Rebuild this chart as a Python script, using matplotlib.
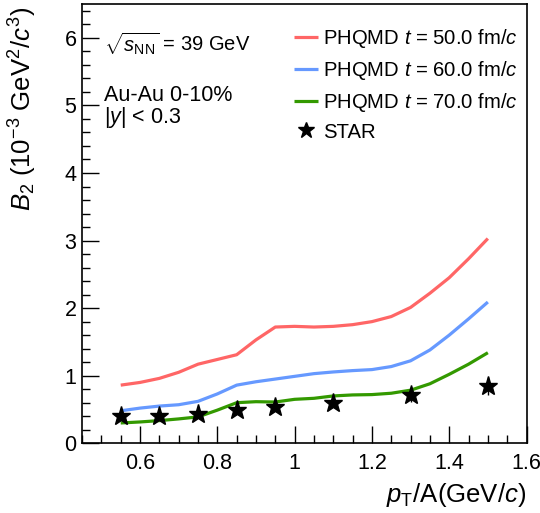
import matplotlib
matplotlib.use("Agg")
import matplotlib.pyplot as plt
from matplotlib.lines import Line2D
from matplotlib.ticker import MultipleLocator

plt.rcParams["font.family"] = ["Liberation Sans", "DejaVu Sans"]
plt.rcParams["mathtext.fontset"] = "custom"
plt.rcParams["mathtext.rm"] = "Liberation Sans"
plt.rcParams["mathtext.it"] = "Liberation Sans:italic"

# PHQMD curves
pt = [0.55, 0.60, 0.65, 0.70, 0.75, 0.80, 0.85, 0.90, 0.95, 1.00,
      1.05, 1.10, 1.15, 1.20, 1.25, 1.30, 1.35, 1.40, 1.45, 1.50]
b2_t50 = [0.86, 0.90, 0.96, 1.05, 1.17, 1.24, 1.31, 1.53, 1.72, 1.73,
          1.72, 1.73, 1.755, 1.80, 1.875, 2.01, 2.22, 2.45, 2.73, 3.03]
b2_t60 = [0.48, 0.52, 0.55, 0.57, 0.62, 0.73, 0.86, 0.91, 0.95, 0.99,
          1.03, 1.055, 1.075, 1.09, 1.135, 1.22, 1.38, 1.60, 1.84, 2.09]
b2_t70 = [0.30, 0.315, 0.335, 0.36, 0.39, 0.49, 0.60, 0.615, 0.61, 0.65,
          0.665, 0.70, 0.715, 0.72, 0.74, 0.785, 0.88, 1.02, 1.17, 1.34]

# STAR data
star_pt = [0.55, 0.65, 0.75, 0.85, 0.95, 1.10, 1.30, 1.50]
star_b2 = [0.40, 0.40, 0.44, 0.49, 0.53, 0.59, 0.715, 0.85]
star_err = [0.03, 0.03, 0.03, 0.04, 0.04, 0.05, 0.11, 0.13]

labels = ["PHQMD $t$ = 50.0 fm/$c$", "PHQMD $t$ = 60.0 fm/$c$", "PHQMD $t$ = 70.0 fm/$c$"]
colors = ["#ff6666", "#6699ff", "#339900"]

fig = plt.figure(figsize=(5.4, 5.13), dpi=100)
ax = fig.add_axes([0.152, 0.136, 0.823, 0.856])

for y, c, lab in zip([b2_t50, b2_t60, b2_t70], colors, labels):
    ax.plot(pt, y, color=c, lw=2.3, label=lab, solid_capstyle="butt", solid_joinstyle="round")

ax.errorbar(star_pt, star_b2, yerr=star_err, fmt="*", color="black", ms=14,
            elinewidth=1, capsize=0, label="STAR", zorder=5)

ax.set_xlim(0.45, 1.6)
ax.set_ylim(0, 6.5)
ax.xaxis.set_major_locator(MultipleLocator(0.2))
ax.xaxis.set_minor_locator(MultipleLocator(0.05))
ax.yaxis.set_major_locator(MultipleLocator(1))
ax.yaxis.set_minor_locator(MultipleLocator(0.2))
ax.xaxis.set_major_formatter(plt.FuncFormatter(lambda v, p: f"{v:g}"))
ax.tick_params(which="both", direction="in", top=False, right=False, labelsize=15.5, width=1)
ax.tick_params(which="major", length=12)
ax.tick_params(which="minor", length=6)
ax.tick_params(axis="x", pad=7)
ax.tick_params(axis="y", pad=4)
for s in ax.spines.values():
    s.set_linewidth(1.2)

ax.set_xlabel("$p_{\\rm T}$/A(GeV/$c$)", fontsize=18.5, loc="right")
ax.xaxis.set_label_coords(1.0, -0.085)
ax.set_ylabel("$B_{2}$ (10$^{-3}$ GeV$^{2}$/$c^{3}$)", fontsize=18.5, loc="top")
ax.yaxis.set_label_coords(-0.098, 0.995)

ax.text(0.05, 0.911, "$\\sqrt{s_{\\rm NN}}$ = 39 GeV", transform=ax.transAxes,
        fontsize=14.5, va="center")
ax.text(0.05, 0.793, "Au-Au 0-10%", transform=ax.transAxes, fontsize=15.5, va="center")
ax.text(0.05, 0.741, "$|y|$ < 0.3", transform=ax.transAxes, fontsize=15.5, va="center")

handles, labs = ax.get_legend_handles_labels()
star_handle = Line2D([], [], ls="none", marker="*", color="black", ms=12)
handles[-1] = star_handle
ax.legend(handles, labs, loc="upper left", bbox_to_anchor=(0.477, 0.947), frameon=False,
          fontsize=14.6, handlelength=1.18, handletextpad=0.27, labelspacing=0.43,
          borderaxespad=0, borderpad=0)

fig.savefig("out.png", dpi=100)
